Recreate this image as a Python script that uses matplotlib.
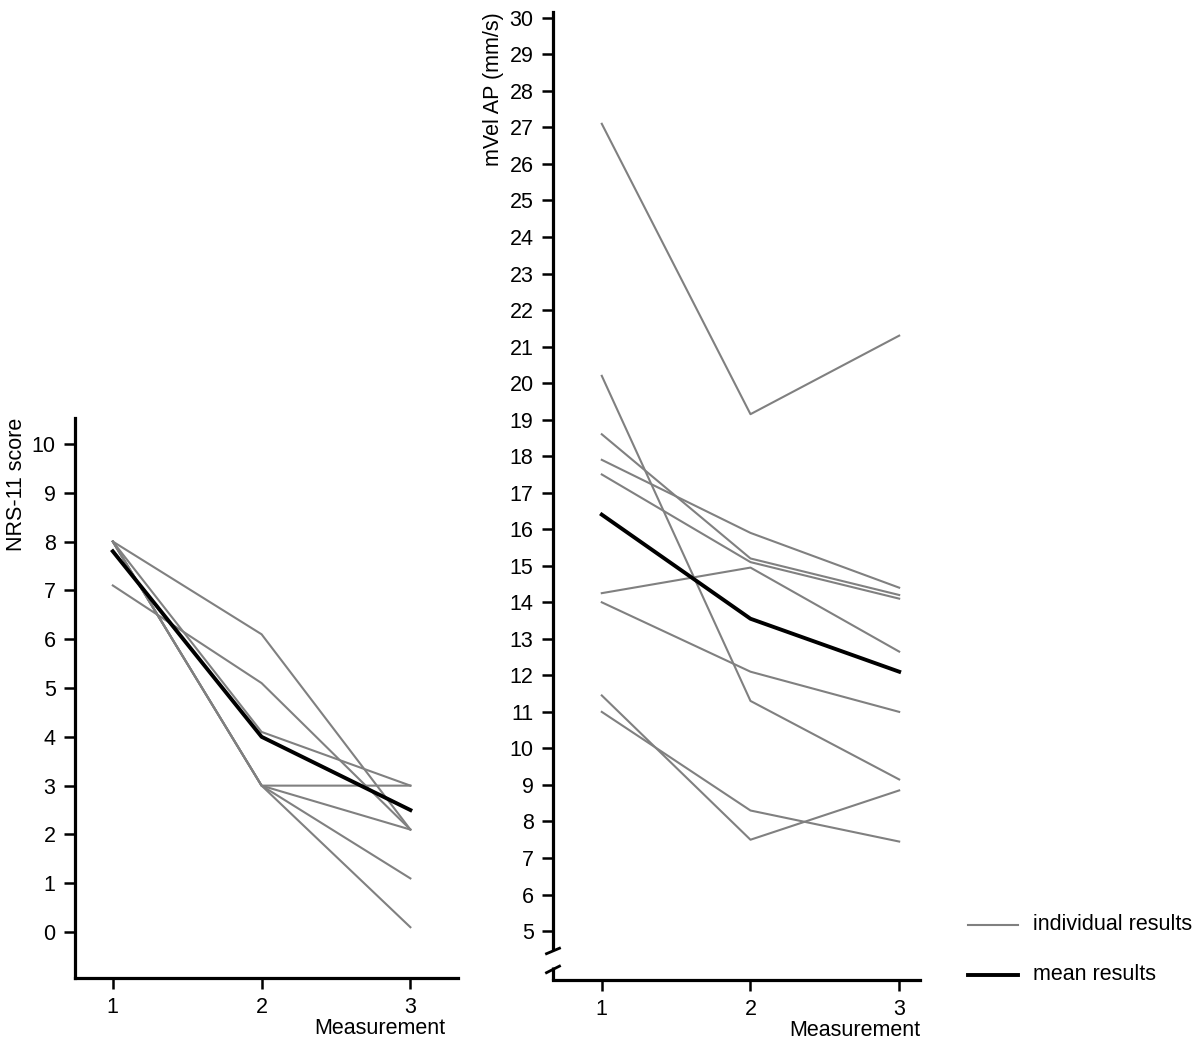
import matplotlib.pyplot as plt
from matplotlib.lines import Line2D

plt.rcParams['font.family'] = ['Liberation Sans', 'DejaVu Sans']

# measurement points
measurement = [1, 2, 3]

# NRS-11 score, individual patients
nrs_individual = [
    [8.0, 6.1, 2.1],
    [7.1, 5.1, 2.1],
    [8.0, 4.1, 3.0],
    [8.0, 3.0, 3.0],
    [8.0, 3.0, 2.1],
    [8.0, 3.0, 1.1],
    [8.0, 3.0, 0.1],
]
nrs_mean = [7.8, 4.0, 2.5]

# mVel AP (mm/s), individual patients
vel_individual = [
    [27.1, 19.15, 21.3],
    [20.2, 11.3, 9.15],
    [18.6, 15.2, 14.2],
    [17.9, 15.9, 14.4],
    [17.5, 15.1, 14.1],
    [14.25, 14.95, 12.65],
    [14.0, 12.1, 11.0],
    [11.45, 7.5, 8.85],
    [11.0, 8.3, 7.45],
]
vel_mean = [16.4, 13.55, 12.1]

gray = '#808080'
fs = 15.5
fig = plt.figure(figsize=(12, 10.5), dpi=100)

W, H = 1200, 1050
ax1 = fig.add_axes([75 / W, (H - 978) / H, (458 - 75) / W, (978 - 418) / H])
ax2 = fig.add_axes([553 / W, (H - 980) / H, (920 - 553) / W, (980 - 12) / H])

for ax in (ax1, ax2):
    for s in ('top', 'right'):
        ax.spines[s].set_visible(False)
    for s in ('left', 'bottom'):
        ax.spines[s].set_linewidth(2.3)
    ax.tick_params(direction='out', length=8, width=1.8, labelsize=fs, pad=6)
    ax.set_xticks(measurement)

# left panel
for row in nrs_individual:
    ax1.plot(measurement, row, color=gray, lw=1.5)
ax1.plot(measurement, nrs_mean, color='black', lw=2.8)
ax1.set_xlim(0.746, 3.32)
ax1.set_ylim(-0.94, 10.53)
ax1.set_yticks(range(0, 11))

# right panel
for row in vel_individual:
    ax2.plot(measurement, row, color=gray, lw=1.5)
ax2.plot(measurement, vel_mean, color='black', lw=2.8)
ax2.set_xlim(0.672, 3.14)
ax2.set_ylim(3.66, 30.16)
ax2.set_yticks(range(5, 31))

# broken y axis on the right panel
ax2.spines['left'].set_bounds(4.53, 30.16)
tr = ax2.get_yaxis_transform()
ax2.plot([0, 0], [3.66, 4.01], color='black', lw=2.3, transform=tr, clip_on=False,
         solid_capstyle='butt')
dx = 13 / (920 - 553)
ax2.plot([-dx / 2, dx / 2], [4.38, 4.53], color='black', lw=2.0, transform=tr, clip_on=False)
ax2.plot([-dx / 2, dx / 2], [3.86, 4.04], color='black', lw=2.0, transform=tr, clip_on=False)

# axis labels
fig.text(17 / W, 1 - 418 / H, 'NRS-11 score', rotation=90, ha='center', va='top', fontsize=fs)
fig.text(493 / W, 1 - 12 / H, 'mVel AP (mm/s)', rotation=90, ha='center', va='top', fontsize=fs)
fig.text(445 / W, 1 - 1028 / H, 'Measurement', ha='right', va='center', fontsize=fs)
fig.text(920 / W, 1 - 1030 / H, 'Measurement', ha='right', va='center', fontsize=fs)

# legend
fig.add_artist(Line2D([968 / W, 1018 / W], [1 - 925 / H, 1 - 925 / H], color=gray, lw=1.5))
fig.add_artist(Line2D([968 / W, 1018 / W], [1 - 975 / H, 1 - 975 / H], color='black', lw=2.8))
fig.text(1033 / W, 1 - 925 / H, 'individual results', va='center', fontsize=fs)
fig.text(1033 / W, 1 - 975 / H, 'mean results', va='center', fontsize=fs)

fig.savefig('out.png', dpi=100)
